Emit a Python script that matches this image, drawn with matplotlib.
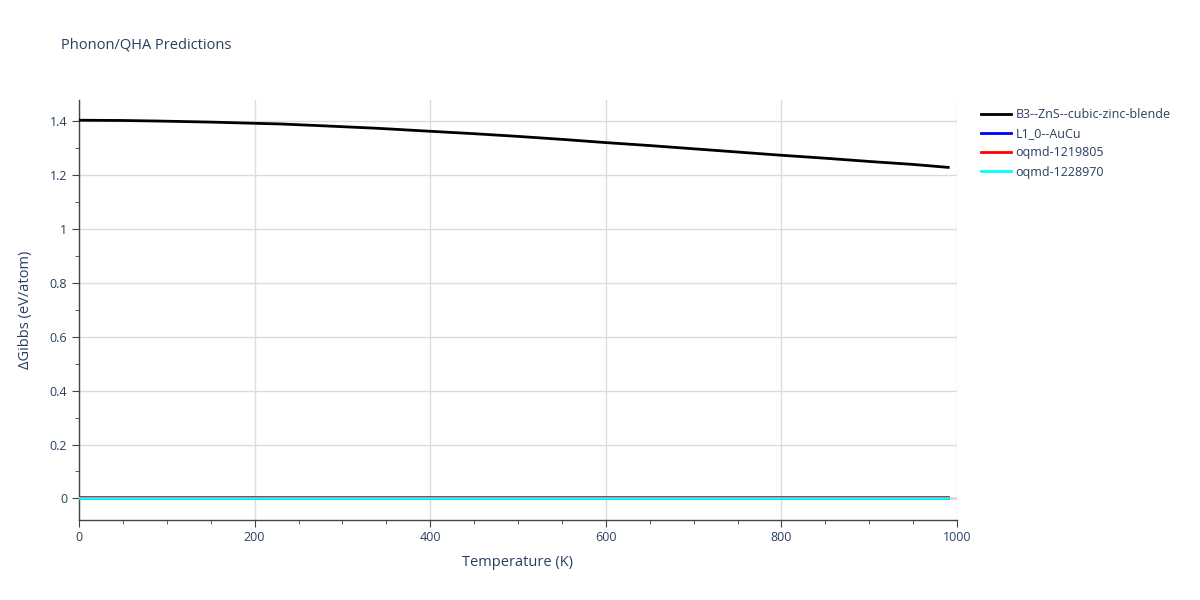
import matplotlib
matplotlib.use("Agg")
import matplotlib.pyplot as plt
from matplotlib.ticker import MultipleLocator

temps = [0, 50, 90, 150, 230, 280, 340, 400, 450, 500, 550, 600, 650, 700, 750, 800, 850, 900, 950, 990]
b3_zns = [1.403, 1.402, 1.400, 1.396, 1.389, 1.382, 1.373, 1.362, 1.353, 1.343, 1.332, 1.320, 1.309, 1.297, 1.285, 1.273, 1.262, 1.250, 1.239, 1.228]
l10_aucu = [0.0] * len(temps)
oqmd_1219805 = [0.007] * len(temps)
oqmd_1228970 = [0.0] * len(temps)

series_names = ["B3--ZnS--cubic-zinc-blende", "L1_0--AuCu", "oqmd-1219805", "oqmd-1228970"]
series_values = [b3_zns, l10_aucu, oqmd_1219805, oqmd_1228970]
series_colors = ["black", "blue", "red", "cyan"]

txt = "#2a3f5f"
plt.rcParams["font.family"] = ["Open Sans", "DejaVu Sans"]

fig = plt.figure(figsize=(12, 6), dpi=100)
ax = fig.add_axes([79/1200, 1-520/600, (957-79)/1200, (520-100)/600])

for name, vals, c in zip(series_names, series_values, series_colors):
    ax.plot(temps, vals, color=c, lw=2, label=name, zorder=3)

ax.set_xlim(0, 1000)
ax.set_ylim(-0.08, 1.478)
ax.xaxis.set_minor_locator(MultipleLocator(50))
ax.yaxis.set_minor_locator(MultipleLocator(0.1))
ax.set_xticks([0, 200, 400, 600, 800, 1000])
ax.set_xticklabels(["0", "200", "400", "600", "800", "1000"])
ax.set_yticks([0, 0.2, 0.4, 0.6, 0.8, 1.0, 1.2, 1.4])
ax.set_yticklabels(["0", "0.2", "0.4", "0.6", "0.8", "1", "1.2", "1.4"])
ax.grid(True, which="major", color="#dcdcdc", lw=1, zorder=0)
ax.axhline(0, color="#d0d0d0", lw=2, zorder=1)

for s in ["top", "right"]:
    ax.spines[s].set_visible(False)
for s in ["left", "bottom"]:
    ax.spines[s].set_color("#444444")
    ax.spines[s].set_linewidth(1)

ax.tick_params(which="both", direction="out", colors="#444444", labelcolor=txt, labelsize=9)
ax.tick_params(which="major", length=5)
ax.tick_params(which="minor", length=3)
ax.tick_params(axis="x", pad=3)

ax.set_xlabel("Temperature (K)", color=txt, fontsize=10.5, labelpad=8)
ax.set_ylabel("ΔGibbs (eV/atom)", color=txt, fontsize=10.5, labelpad=12)

fig.text(61/1200, 1-45/600, "Phonon/QHA Predictions", color=txt, fontsize=10.5, va="center", ha="left")

leg = ax.legend(loc="upper left", bbox_to_anchor=(981/1200, 1-108/600), bbox_transform=fig.transFigure,
                frameon=False, fontsize=9, handlelength=2.4, handletextpad=0.35, labelspacing=0.5,
                borderaxespad=0, borderpad=0)
for t in leg.get_texts():
    t.set_color(txt)

fig.savefig("out.png", dpi=100)
